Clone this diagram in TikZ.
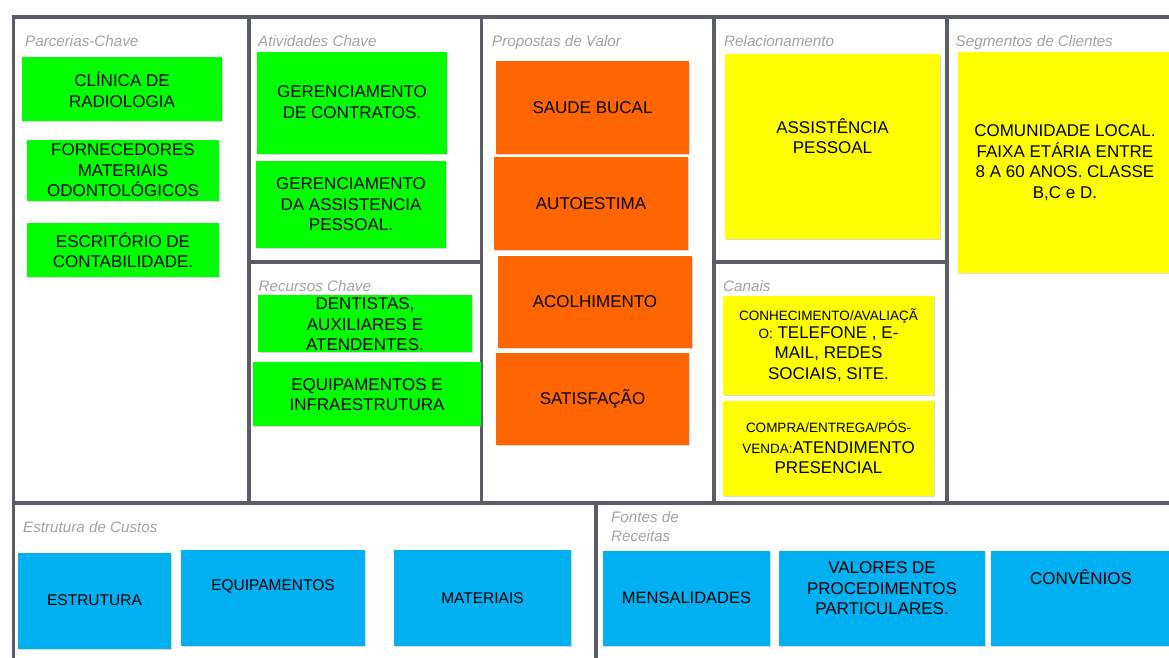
\documentclass[tikz,border=0pt]{standalone}
\usepackage{fontspec}
\setmainfont{Liberation Sans}
\usetikzlibrary{shadows}

\definecolor{frame}{HTML}{5A5E64}
\definecolor{labelgray}{HTML}{A3A3A3}
\definecolor{cgreen}{HTML}{00FF00}
\definecolor{corange}{HTML}{FF6600}
\definecolor{cyellow}{HTML}{FFFF00}
\definecolor{cblue}{HTML}{00B0F0}

\newcommand{\cardsmall}{\fontsize{13.5}{20.5}\selectfont}
\newcommand{\costfont}{\fontsize{15.5}{19}\selectfont}

\tikzset{
  frameline/.style={draw=frame, line width=3.8pt},
  blocklabel/.style={anchor=base west, inner sep=0pt, text=labelgray,
    font=\fontsize{15.2}{19.5}\selectfont\itshape, align=left},
  card/.style={anchor=north west, inner sep=0pt, outer sep=0pt, draw=none,
    drop shadow={shadow xshift=1.3pt, shadow yshift=-1.3pt, opacity=0.3}},
  cardtext/.style={align=center, inner sep=0pt, text=black,
    font=\fontsize{17}{20.5}\selectfont},
}

% #1 name, #2 colour, #3/#4 top-left, #5/#6 bottom-right, #7 text centre y, #8 text
\newcommand{\card}[8]{%
  \node[card, fill=#2, minimum width={#5pt-#3pt}, minimum height={#6pt-#4pt}]
    (#1) at (#3,#4) {};
  \node[cardtext] (#1-text) at ({(#3+#5)/2},#7) {#8};
}

\begin{document}
\begin{tikzpicture}[x=1pt, y=-1pt]
  \useasboundingbox (0,0) rectangle (1169,657);
  \clip (0,0) rectangle (1169,657);
  \fill[white] (0,0) rectangle (1169,657);

  % canvas grid
  \draw[frameline] (1180,17) -- (13.5,17) -- (13.5,665);
  \draw[frameline] (249,17) -- (249,503);
  \draw[frameline] (481.5,17) -- (481.5,503);
  \draw[frameline] (714,17) -- (714,503);
  \draw[frameline] (947,17) -- (947,503);
  \draw[frameline] (249,262) -- (481.5,262);
  \draw[frameline] (714,262) -- (947,262);
  \draw[frameline] (13.5,503) -- (1180,503);
  \draw[frameline] (596,503) -- (596,665);

  % block titles
  \node[blocklabel] (lparcerias) at (25,46.5) {Parcerias-Chave};
  \node[blocklabel] (latividades) at (258,46.5) {Atividades Chave};
  \node[blocklabel] (lpropostas) at (492,46.5) {Propostas de Valor};
  \node[blocklabel] (lrelacionamento) at (724,46.5) {Relacionamento};
  \node[blocklabel] (lsegmentos) at (955.5,46.5) {Segmentos de Clientes};
  \node[blocklabel] (lrecursos) at (258.5,291) {Recursos Chave};
  \node[blocklabel] (lcanais) at (723,291) {Canais};
  \node[blocklabel] (lcustos) at (23,532) {Estrutura de Custos};
  \node[blocklabel, anchor=north west] (lreceitas) at (611,511) {Fontes de\\Receitas};

  % key partners
  \card{clinica}{cgreen}{22}{57}{222}{121}{89.5}{CLÍNICA DE\\RADIOLOGIA}
  \card{fornecedores}{cgreen}{27}{140}{219}{201}{170.5}{FORNECEDORES\\MATERIAIS\\ODONTOLÓGICOS}
  \card{escritorio}{cgreen}{27}{223}{219}{277}{250}{ESCRITÓRIO DE\\CONTABILIDADE.}

  % key activities
  \card{contratos}{cgreen}{257}{52}{447}{154}{102}{GERENCIAMENTO\\DE CONTRATOS.}
  \card{assistencia}{cgreen}{256}{161}{446}{248}{204.5}{GERENCIAMENTO\\DA ASSISTENCIA\\PESSOAL.}

  % key resources
  \card{equipe}{cgreen}{258}{295}{472}{352}{324.5}{DENTISTAS,\\AUXILIARES E\\ATENDENTES.}
  \card{infra}{cgreen}{253}{362}{481}{426}{394.5}{EQUIPAMENTOS E\\INFRAESTRUTURA}

  % value propositions
  \card{saude}{corange}{496}{61}{689}{154}{107.5}{SAUDE BUCAL}
  \card{autoestima}{corange}{494}{157}{688}{250}{204}{AUTOESTIMA}
  \card{acolhimento}{corange}{498}{256}{692}{348}{301.5}{ACOLHIMENTO}
  \card{satisfacao}{corange}{496}{353}{689}{445}{399}{SATISFAÇÃO}

  % customer relationships
  \card{pessoal}{cyellow}{725}{54}{940}{239}{136}{ASSISTÊNCIA\\PESSOAL}

  % customer segments
  \card{comunidade}{cyellow}{958}{52}{1172}{273}{162.5}{COMUNIDADE LOCAL.\\FAIXA ETÁRIA ENTRE\\8 A 60 ANOS. CLASSE\\B,C e D.}

  % channels
  \card{conhecimento}{cyellow}{723}{296}{934}{395}{345}{{\cardsmall CONHECIMENTO/AVALIAÇÃ}\\[-2.5pt]{\cardsmall O:} TELEFONE , E-\\MAIL, REDES\\SOCIAIS, SITE.}
  \card{compra}{cyellow}{723}{401}{934}{496}{447.5}{{\cardsmall COMPRA/ENTREGA/PÓS-}\\{\cardsmall VENDA:}ATENDIMENTO\\PRESENCIAL}

  % cost structure
  \card{estrutura}{cblue}{18}{553}{171}{649}{600}{\costfont ESTRUTURA}
  \card{equipamentos}{cblue}{181}{550}{365}{646}{587}{\costfont EQUIPAMENTOS}
  \card{materiais}{cblue}{394}{550}{571}{646}{598}{\costfont MATERIAIS}

  % revenue streams
  \card{mensalidades}{cblue}{603}{551}{770}{646}{598}{\fontsize{16.5}{20}\selectfont MENSALIDADES}
  \card{valores}{cblue}{779}{551}{985}{646}{588.5}{VALORES DE\\PROCEDIMENTOS\\PARTICULARES.}
  \card{convenios}{cblue}{991}{551}{1171}{646}{577}{CONVÊNIOS}
\end{tikzpicture}
\end{document}
